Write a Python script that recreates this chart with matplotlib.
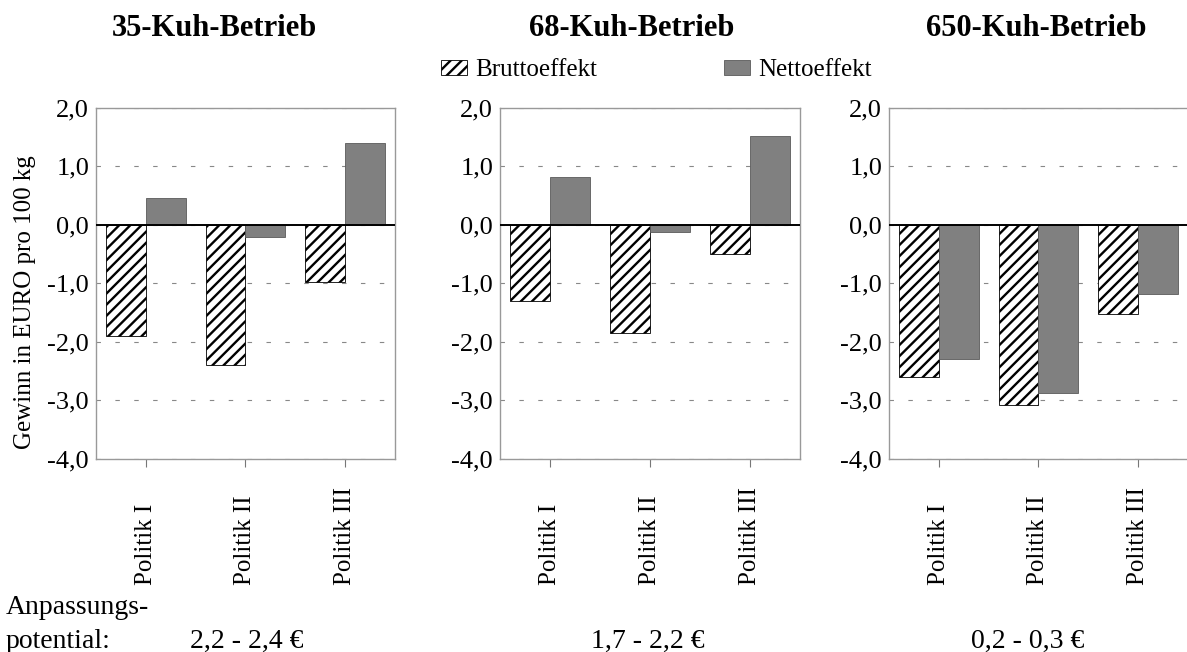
import matplotlib
matplotlib.use("Agg")
import matplotlib.pyplot as plt
from matplotlib.patches import Patch

plt.rcParams['font.family'] = ['Liberation Serif', 'DejaVu Serif']
plt.rcParams['hatch.linewidth'] = 1.7

# Daten
betriebe = ["35-Kuh-Betrieb", "68-Kuh-Betrieb", "650-Kuh-Betrieb"]
politik = ["Politik I", "Politik II", "Politik III"]
brutto_35 = [-1.90, -2.41, -0.98]
netto_35 = [0.46, -0.21, 1.40]
brutto_68 = [-1.31, -1.86, -0.51]
netto_68 = [0.82, -0.12, 1.52]
brutto_650 = [-2.60, -3.08, -1.53]
netto_650 = [-2.30, -2.88, -1.18]
potential = ["2,2 - 2,4 €", "1,7 - 2,2 €", "0,2 - 0,3 €"]
yticks = [-4, -3, -2, -1, 0, 1, 2]

W, H = 1187, 652
fig = plt.figure(figsize=(W / 100, H / 100), dpi=100)

# Position der Panels in Pixel (links, oben, breite, hoehe)
panel_px = [(96, 107.5, 299, 351), (500, 107.5, 300, 351), (889, 107.5, 299, 351)]
title_x = [214, 632, 1036]
pot_x = [247, 648, 1028]

daten = [(brutto_35, netto_35), (brutto_68, netto_68), (brutto_650, netto_650)]
x = list(range(len(politik)))

for k, (brutto, netto) in enumerate(daten):
    l, t, w, h = panel_px[k]
    ax = fig.add_axes([l / W, 1 - (t + h) / H, w / W, h / H])
    ax.bar([i - 0.2 for i in x], brutto, width=0.4, facecolor='white',
           edgecolor='black', linewidth=0.6, hatch='///', zorder=2)
    ax.bar([i + 0.2 for i in x], netto, width=0.4, facecolor='#808080',
           edgecolor='#5a5a5a', linewidth=0.6, zorder=2)
    ax.axhline(0, color='black', lw=1.4, zorder=3)
    ax.set_xlim(-0.5, 2.5)
    ax.set_ylim(-4, 2)
    ax.set_yticks(yticks)
    ax.set_yticklabels([f"{v:.1f}".replace('.', ',') for v in yticks], fontsize=19)
    ax.tick_params(axis='y', length=0, pad=5)
    ax.set_xticks(x)
    ax.set_xticklabels([])
    ax.tick_params(axis='x', length=6, direction='out', color='#777777')
    ax.set_axisbelow(True)
    ax.grid(axis='y', color='#888888', lw=0.8, dashes=(4, 13))
    for s in ax.spines.values():
        s.set_color('#999999')
        s.set_linewidth(1.0)
    for i, name in enumerate(politik):
        ax.text(i, (h - (585 - t)) / h, name, transform=ax.get_xaxis_transform(),
                rotation=90, ha='center', va='bottom', fontsize=18)
    fig.text(title_x[k] / W, 1 - 28 / H, betriebe[k], ha='center', va='center',
             fontsize=22, fontweight='bold')
    fig.text(pot_x[k] / W, 1 - 641 / H, potential[k], ha='center', va='center',
             fontsize=20)

fig.text(25 / W, 1 - 302 / H, "Gewinn in EURO pro 100 kg", rotation=90,
         ha='center', va='center', fontsize=18)
fig.text(6 / W, 1 - 607 / H, "Anpassungs-", ha='left', va='center', fontsize=20)
fig.text(6 / W, 1 - 641 / H, "potential:", ha='left', va='center', fontsize=20)

handles = [Patch(facecolor='white', edgecolor='black', hatch='///', linewidth=0.6),
           Patch(facecolor='#808080', edgecolor='#5a5a5a', linewidth=0.6)]
fig.legend(handles, ["Bruttoeffekt", "Nettoeffekt"], ncol=2, loc='center left',
           bbox_to_anchor=(441 / W, 1 - 70 / H), frameon=False, fontsize=18,
           handlelength=1.05, handleheight=0.55, handletextpad=0.3,
           columnspacing=5.1, borderpad=0, borderaxespad=0)

fig.savefig("out.png", dpi=100)
